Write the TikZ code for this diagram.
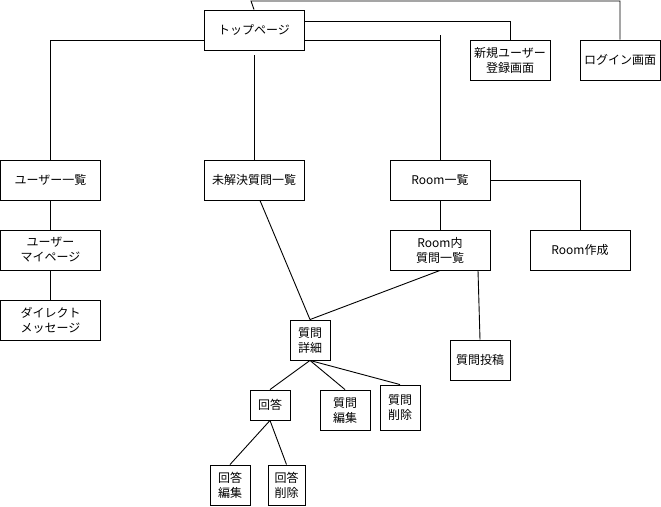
\documentclass[tikz,border=0pt]{standalone}
\usepackage{fontspec}
\newfontfamily\jpfont{Noto Sans CJK JP}
\begin{document}
\begin{tikzpicture}[x=1pt,y=-1pt,
    page/.style={draw,line width=0.9pt,inner sep=0pt,align=center,
      minimum width=#1,minimum height=40pt,
      font=\jpfont\fontsize{12}{15}\selectfont},
    page/.default=100pt]
  \useasboundingbox (0,0) rectangle (661,506);
  \draw
    (254,30) node[page] (top){トップページ}
    (510,60) node[page=80pt] (signup){新規ユーザー\\登録画面}
    (620,60) node[page=80pt] (login){ログイン画面}
    (50.5,180) node[page] (users){ユーザー一覧}
    (254,180) node[page] (unsolved){未解決質問一覧}
    (440,180) node[page] (rooms){Room一覧}
    (50.5,250) node[page] (mypage){ユーザー\\マイページ}
    (440,250) node[page] (roomq){Room内\\質問一覧}
    (580,250) node[page] (roomnew){Room作成}
    (50.5,320) node[page] (dm){ダイレクト\\メッセージ}
    (310,340) node[page=40pt] (detail){質問\\詳細}
    (480,360) node[page=60pt] (post){質問投稿}
    (270,405) node[page=40pt,minimum height=30pt] (answer){回答}
    (345,410) node[page=50pt] (qedit){質問\\編集}
    (400,407.5) node[page=40pt,minimum height=45pt] (qdel){質問\\削除}
    (230,485) node[page=40pt] (aedit){回答\\編集}
    (286.5,485) node[page=37pt] (adel){回答\\削除};
  \coordinate (loginbend) at (251,1);
  \coordinate (roomtop) at (440,35);
  \begin{scope}[-,line width=0.9pt]
    \draw (top.north) to (loginbend) -| (login.north);
    \draw ([yshift=9pt]top.east) -| (signup.north);
    \draw ([yshift=-10pt]top.west) -| (users.north);
    \draw ([yshift=-10pt]top.east) -| (rooms.north);
    \draw (roomtop) to (rooms.north);
    \draw ([yshift=-5pt]top.south) to (unsolved.north);
    \draw (users) to (mypage);
    \draw (mypage) to (dm);
    \draw ([xshift=6pt]unsolved.south) to (detail.north);
    \draw (rooms) to (roomq);
    \draw (rooms.east) -| (roomnew.north);
    \draw (roomq.south) to (detail.north);
    \draw ([xshift=38pt]roomq.south) to (post.north);
    \draw (detail.south) to (answer.north);
    \draw (detail.south) to (qedit.north);
    \draw (detail.south) to (qdel.north);
    \draw (answer.south) to (aedit.north);
    \draw (answer.south) to (adel.north);
  \end{scope}
\end{tikzpicture}
\end{document}
